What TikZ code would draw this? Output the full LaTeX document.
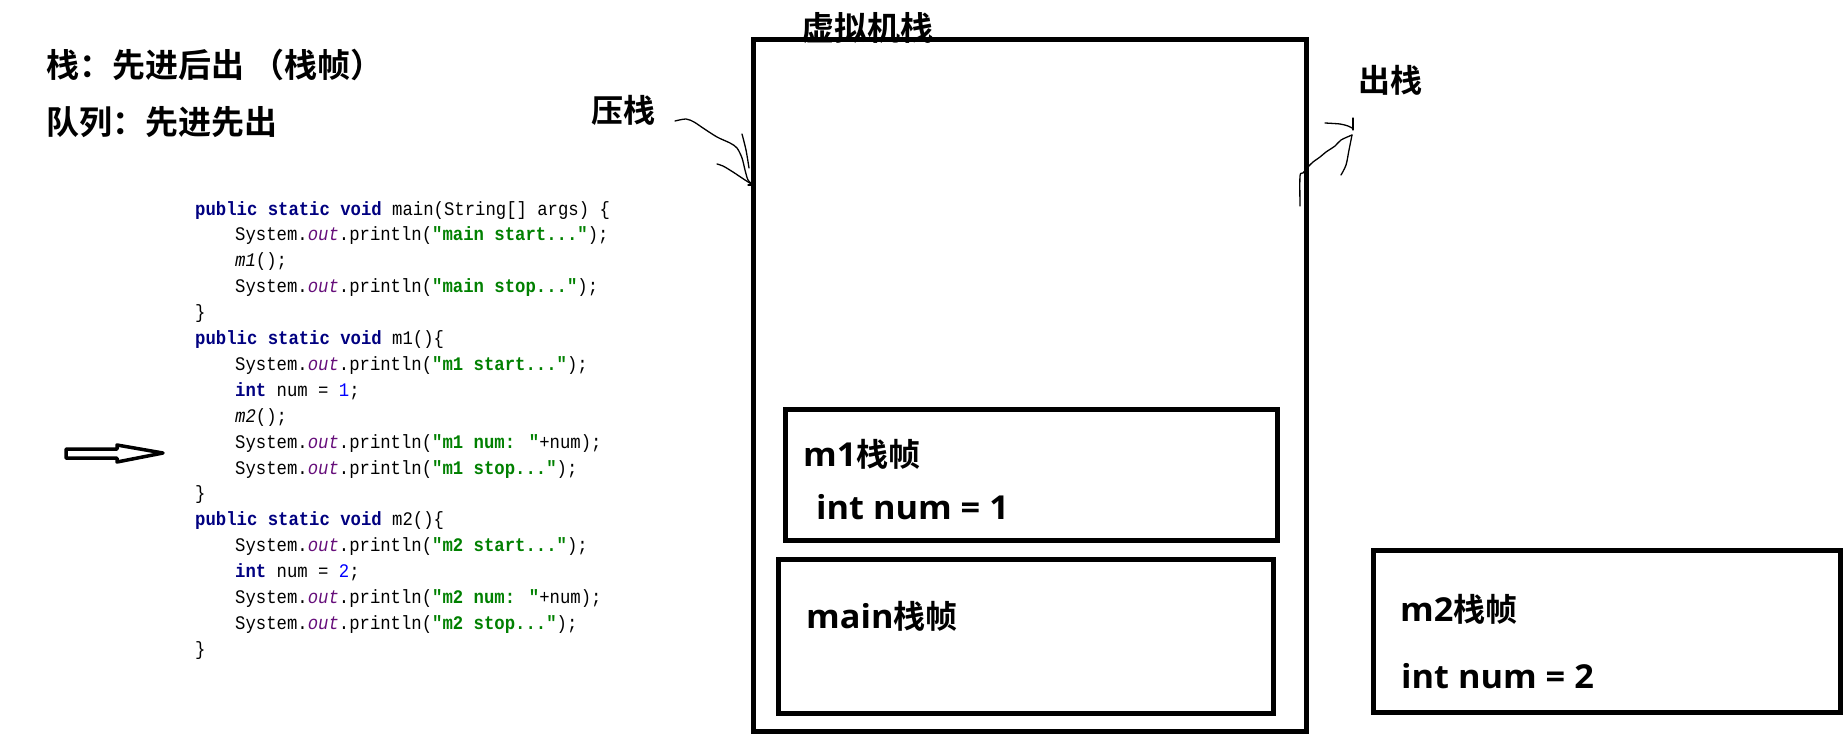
\documentclass[tikz,border=0pt]{standalone}
\usepackage{fontspec}
\newfontfamily\cjkfont{Noto Sans CJK SC}[BoldFont={Noto Sans CJK SC Bold}]
\newfontfamily\latfont{Open Sans}[FakeStretch=1.04]
\newfontfamily\codefont{Liberation Mono}[FakeStretch=0.9]
\definecolor{kwc}{RGB}{0,0,128}
\definecolor{outc}{RGB}{102,14,122}
\definecolor{stc}{RGB}{0,128,0}
\definecolor{numc}{RGB}{0,0,255}
\newcommand\kwd[1]{{\bfseries\color{kwc}#1}}
\newcommand\outw{{\itshape\color{outc}out}}
\newcommand\strg[1]{{\bfseries\color{stc}#1}}
\newcommand\numb[1]{{\color{numc}#1}}
\newcommand\latin[1]{{\latfont\fontsize{33}{36}\selectfont #1}}
\tikzset{
  box/.style={draw=black, line width=5pt, inner sep=0pt, fill=none},
  lbl/.style={anchor=base west, inner sep=0pt, font=\fontsize{32}{36}\selectfont\bfseries},
  head/.style={anchor=base west, inner sep=0pt, font=\fontsize{33}{36}\selectfont\bfseries},
  codeline/.style={anchor=base west, inner sep=0pt, font=\codefont\fontsize{19.2}{22}\selectfont},
  hand/.style={draw=black, line width=1.3pt, line cap=round, line join=round},
}
\begin{document}
\begin{tikzpicture}[x=1pt,y=-1pt]
\useasboundingbox (0,0) rectangle (1846,736);
% headings
\node[head] (h1) at (46,77) {\cjkfont 栈：先进后出 （栈帧）};
\node[head] (h2) at (46,134) {\cjkfont 队列：先进先出};
% code
\node[codeline] (c0) at (195,215.0) {\kwd{public static void} main(String[] args) \{};
\node[codeline] (c1) at (235,240.9) {System.\outw.println(\strg{"main start..."});};
\node[codeline] (c2) at (235,266.8) {{\itshape m1}();};
\node[codeline] (c3) at (235,292.7) {System.\outw.println(\strg{"main stop..."});};
\node[codeline] (c4) at (195,318.6) {\}};
\node[codeline] (c5) at (195,344.5) {\kwd{public static void} m1()\{};
\node[codeline] (c6) at (235,370.4) {System.\outw.println(\strg{"m1 start..."});};
\node[codeline] (c7) at (235,396.3) {\kwd{int} num = \numb{1};};
\node[codeline] (c8) at (235,422.2) {{\itshape m2}();};
\node[codeline] (c9) at (235,448.1) {System.\outw.println(\strg{"m1 num: "}+num);};
\node[codeline] (c10) at (235,474.0) {System.\outw.println(\strg{"m1 stop..."});};
\node[codeline] (c11) at (195,499.9) {\}};
\node[codeline] (c12) at (195,525.8) {\kwd{public static void} m2()\{};
\node[codeline] (c13) at (235,551.7) {System.\outw.println(\strg{"m2 start..."});};
\node[codeline] (c14) at (235,577.6) {\kwd{int} num = \numb{2};};
\node[codeline] (c15) at (235,603.5) {System.\outw.println(\strg{"m2 num: "}+num);};
\node[codeline] (c16) at (235,629.4) {System.\outw.println(\strg{"m2 stop..."});};
\node[codeline] (c17) at (195,655.3) {\}};
% hollow pointer arrow
\draw[line width=3.5pt, line join=round] (66,449) -- (117,449) -- (117,445) -- (163,453) -- (117,462) -- (117,458) -- (66,458) -- cycle;
% stack boxes
\node[box, minimum width=553pt, minimum height=692pt] (stack) at (1029.5,385) {};
\node[box, minimum width=492pt, minimum height=131pt] (m1f) at (1031,474.5) {};
\node[box, minimum width=495pt, minimum height=154pt] (mainf) at (1025.5,636) {};
\node[box, minimum width=467pt, minimum height=162pt] (m2f) at (1606.5,631) {};
\node[head] (title) at (801,40) {\cjkfont 虚拟机栈};
\node[lbl] (m1t) at (803,466) {\latin{m1}\cjkfont 栈帧};
\node[lbl] (m1v) at (816,519) {\latin{int num = 1}};
\node[lbl] (maint) at (806,628) {\latin{main}\cjkfont 栈帧};
\node[lbl] (m2t) at (1400,621) {\latin{m2}\cjkfont 栈帧};
\node[lbl] (m2v) at (1401,688) {\latin{int num = 2}};
\node[lbl] (push) at (591,122) {\cjkfont 压栈};
\node[lbl] (pop) at (1358,92) {\cjkfont 出栈};
% hand-drawn push arrow
\draw[hand] plot[smooth] coordinates {(675,121) (686,119) (694,122) (703,128) (717,137) (730,143) (737,148) (742,158) (745,170) (748,180) (753,185)};
\draw[hand] plot[smooth] coordinates {(742,134) (746,150) (749,168)};
\draw[hand] plot[smooth] coordinates {(717,164) (723,166) (733,172) (745,180) (753,185)};
\draw[hand] (748,185) -- (753,185);
% hand-drawn pop arrow
\draw[hand] plot[smooth] coordinates {(1300,206) (1300,176) (1303,173) (1308,167) (1313,162) (1320,157) (1326,152) (1335,146) (1341,140) (1352,135)};
\draw[hand] plot[smooth] coordinates {(1325,123) (1340,124) (1348,126) (1352,128)};
\draw[hand] (1353,118) -- (1353,130);
\draw[hand] plot[smooth] coordinates {(1352,135) (1349,150) (1346,165) (1341,175)};
\end{tikzpicture}
\end{document}
